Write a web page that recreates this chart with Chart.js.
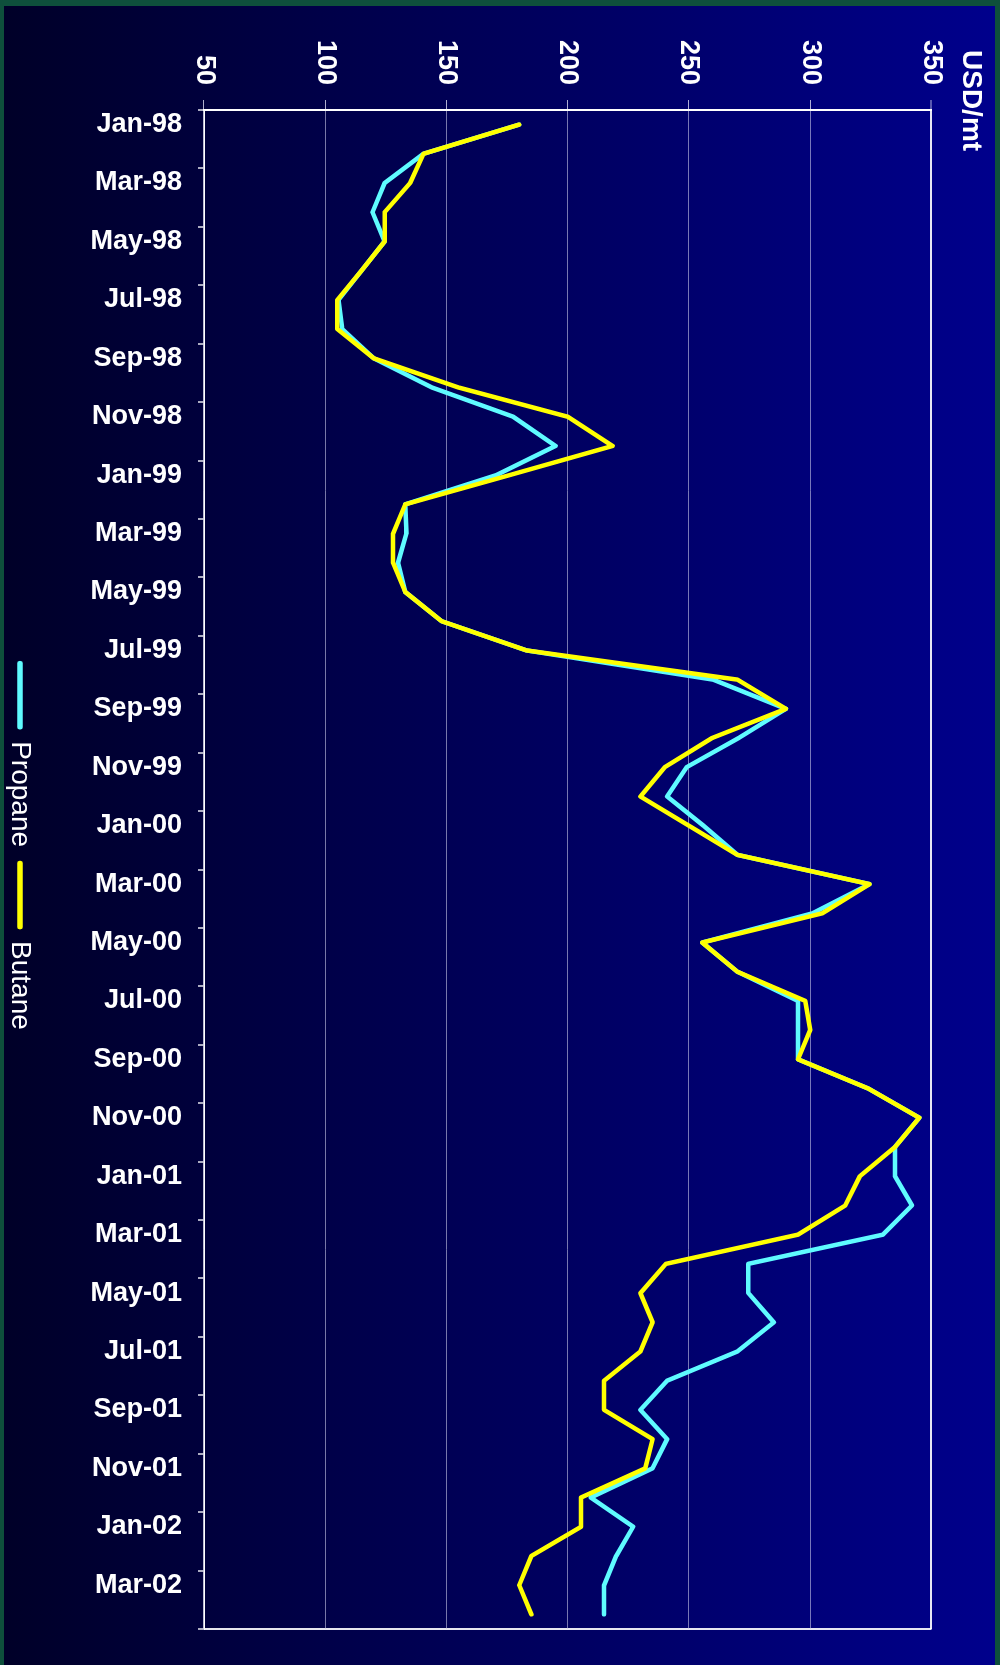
<!DOCTYPE html>
<html>
<head>
<meta charset="utf-8">
<title>Propane and Butane prices, USD/mt</title>
<script src="https://cdn.jsdelivr.net/npm/chart.js@4.4.1/dist/chart.umd.min.js"></script>
<style>
  html, body { margin: 0; padding: 0; }
  body { width: 1000px; height: 1665px; background: #0e503c; position: relative; overflow: hidden; }
  #panel { position: absolute; left: 4px; top: 6px; width: 991px; height: 1659px;
           background: linear-gradient(to right, #000028, #00008c); }
  /* the chart is laid out landscape and turned a quarter clockwise onto the page */
  #chart { position: absolute; left: 0; top: 0; width: 1665px; height: 1000px;
           transform-origin: 0 0; transform: translate(1000px, 0) rotate(90deg); }
</style>
</head>
<body>
<div id="panel"></div>
<canvas id="chart" width="1665" height="1000"></canvas>
<script>
// Monthly categories, Jan-98 .. Apr-02
const months = [
  'Jan-98','Feb-98','Mar-98','Apr-98','May-98','Jun-98','Jul-98','Aug-98','Sep-98','Oct-98','Nov-98','Dec-98',
  'Jan-99','Feb-99','Mar-99','Apr-99','May-99','Jun-99','Jul-99','Aug-99','Sep-99','Oct-99','Nov-99','Dec-99',
  'Jan-00','Feb-00','Mar-00','Apr-00','May-00','Jun-00','Jul-00','Aug-00','Sep-00','Oct-00','Nov-00','Dec-00',
  'Jan-01','Feb-01','Mar-01','Apr-01','May-01','Jun-01','Jul-01','Aug-01','Sep-01','Oct-01','Nov-01','Dec-01',
  'Jan-02','Feb-02','Mar-02','Apr-02'
];

// Prices in USD/mt
const propane = [
  180, 140.5, 124.5, 119.5, 124.5, 115, 105.5, 107, 120, 144, 177.5, 195,
  170.5, 133, 133.5, 130, 133, 148, 183, 260, 290, 270.5, 249, 241,
  256, 270, 324.5, 301, 255.5, 270, 295, 295, 295, 324, 345, 335,
  335, 342, 330, 274.5, 274.5, 285, 270, 241, 230, 241, 235, 209.5,
  227, 220, 215, 215
];
const butane = [
  180, 140.5, 135, 124.5, 124.5, 115, 105, 105, 120, 155, 200, 218.5,
  176, 133, 128, 128, 133, 148, 183, 270, 290, 259.5, 240, 230,
  250, 270, 324.5, 305, 255.5, 270, 298, 300, 295, 324, 345, 335,
  320.5, 314.5, 295, 240.5, 230, 235, 230, 215, 215, 235, 232, 205.5,
  205.5, 185, 180, 185
];

// Value axis range and step
const valueMin = 50;
const valueMax = 350;
const valueStep = 50;

const seriesNames = ['Propane', 'Butane'];
const seriesColors = ['#5ffbff', '#ffff00'];

Chart.defaults.font.family = '"Liberation Sans", Arial, Helvetica, sans-serif';
Chart.defaults.color = '#ffffff';

const white = '#ffffff';

// Starts the unit caption just inside the value-axis labels and
// nudges the legend row toward the middle of the plot.
const alignBlocks = {
  id: 'alignBlocks',
  afterLayout(chart) {
    if (chart.titleBlock) chart.titleBlock.left = chart.scales.y.left + 10;
    if (chart.legend) chart.legend.left += 24;
  }
};

new Chart(document.getElementById('chart'), {
  type: 'line',
  data: {
    labels: months,
    datasets: [
      {
        label: seriesNames[0], data: propane, order: 1,
        borderColor: seriesColors[0], backgroundColor: seriesColors[0],
        borderWidth: 4.5, pointRadius: 0, tension: 0,
        borderCapStyle: 'round', borderJoinStyle: 'round'
      },
      {
        label: seriesNames[1], data: butane, order: 0,
        borderColor: seriesColors[1], backgroundColor: seriesColors[1],
        borderWidth: 4.5, pointRadius: 0, tension: 0,
        borderCapStyle: 'round', borderJoinStyle: 'round'
      }
    ]
  },
  plugins: [alignBlocks],
  options: {
    responsive: false,
    animation: false,
    devicePixelRatio: 1,
    layout: { padding: { left: 40, right: 36, top: 0, bottom: -4 } },
    plugins: {
      title: {
        display: true,
        text: 'USD/mt',
        align: 'start',
        color: white,
        font: { size: 28, weight: 'bold' },
        padding: { top: 12, bottom: 23 }
      },
      legend: {
        position: 'bottom',
        labels: {
          color: white,
          font: { size: 28 },
          boxWidth: 64,
          boxHeight: 1,
          padding: 16,
          sort: (a, b) => a.datasetIndex - b.datasetIndex
        }
      },
      tooltip: { enabled: false }
    },
    scales: {
      x: {
        type: 'category',
        offset: true,
        border: { display: true, color: white, width: 1.5 },
        grid: {
          offset: true,
          drawOnChartArea: true,
          tickLength: 6,
          lineWidth: 2,
          color: (c) => (c.index === 0 || c.index === undefined) ? 'rgba(255,255,255,0.9)' : 'transparent',
          tickColor: (c) => (c.index === undefined || c.index % 2 === 0) ? 'rgba(255,255,255,0.9)' : 'transparent',
          tickWidth: 1.5
        },
        ticks: {
          autoSkip: false,
          minRotation: 90,
          maxRotation: 90,
          padding: 16,
          color: white,
          font: { size: 27, weight: 'bold' },
          callback: function (value, index) {
            return index % 2 === 0 ? this.getLabelForValue(value) : '';
          }
        },
        afterFit: (scale) => { scale.height = 154; }
      },
      y: {
        min: valueMin,
        max: valueMax,
        border: { display: true, color: white, width: 2 },
        grid: {
          color: (c) => (c.tick && c.tick.value === valueMax) ? 'rgba(255,255,255,0.9)' : 'rgba(200,200,230,0.6)',
          lineWidth: (c) => (c.tick && c.tick.value === valueMax) ? 2 : 1,
          tickLength: 10,
          tickColor: 'rgba(220,220,240,0.8)',
          tickWidth: 1
        },
        ticks: {
          stepSize: valueStep,
          padding: 15,
          color: white,
          font: { size: 27, weight: 'bold' }
        },
        afterFit: (scale) => { scale.width = 70; }
      }
    }
  }
});
</script>
</body>
</html>
